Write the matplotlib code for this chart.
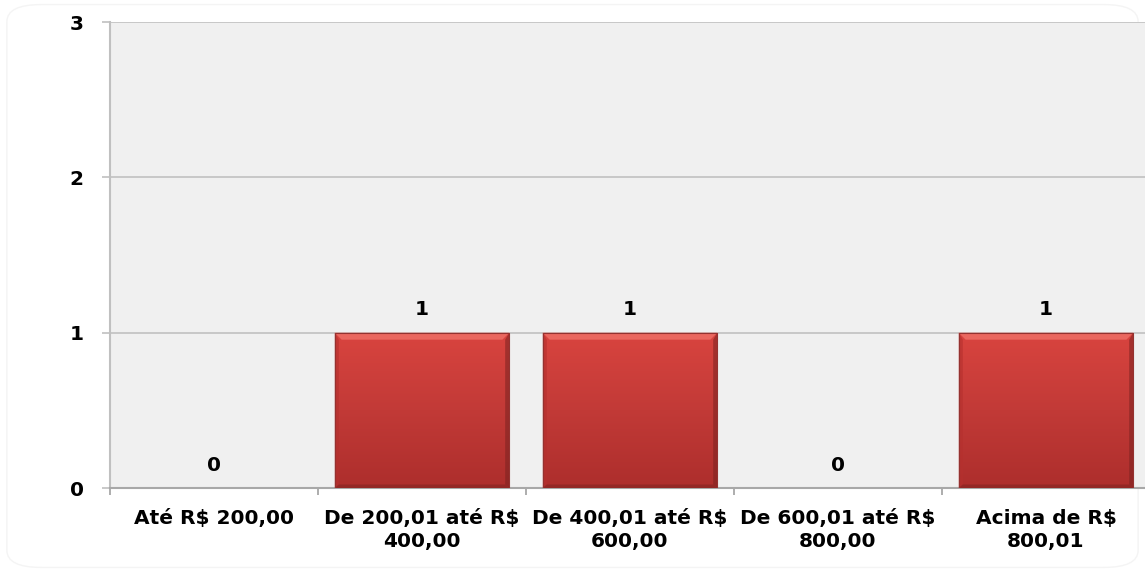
import numpy as np
import matplotlib
matplotlib.use("Agg")
import matplotlib.pyplot as plt
from matplotlib.patches import FancyBboxPatch, Rectangle, Polygon
from matplotlib.colors import LinearSegmentedColormap

categories = [
    "Até R$ 200,00",
    "De 200,01 até R$\n400,00",
    "De 400,01 até R$\n600,00",
    "De 600,01 até R$\n800,00",
    "Acima de R$\n800,01",
]
values = [0, 1, 1, 0, 1]
y_ticks = [0, 1, 2, 3]

plt.rcParams["font.family"] = ["DejaVu Sans"]
plt.rcParams["font.weight"] = "bold"

FS = 14.5

fig = plt.figure(figsize=(11.45, 5.72), dpi=100)
fig.patch.set_facecolor("white")

# very faint rounded frame around the chart
frame = FancyBboxPatch((0.006, 0.008), 0.988, 0.984,
                       boxstyle="round,pad=0,rounding_size=0.03",
                       transform=fig.transFigure, facecolor="none",
                       edgecolor="#f4f4f4", linewidth=1.0, zorder=-1)
fig.patches.append(frame)

ax = fig.add_axes([110 / 1145, 84 / 572, 1040 / 1145, 466 / 572])
ax.set_facecolor("#f0f0f0")

x = np.arange(len(categories))
bar_w = 0.84
bars = ax.bar(x, values, width=bar_w, color="#c83a38", edgecolor="none",
              linewidth=0, zorder=3)

# vertical gradient with a beveled look for each bar
grad_cmap = LinearSegmentedColormap.from_list(
    "bar", ["#ad2e2c", "#c23a37", "#d9443f"])
for b in bars:
    h = b.get_height()
    if h <= 0:
        continue
    x0, w = b.get_x(), b.get_width()
    grad = np.linspace(0, 1, 256).reshape(-1, 1)
    im = ax.imshow(grad, extent=[x0, x0 + w, 0, h], origin="lower",
                   cmap=grad_cmap, aspect="auto", zorder=3.2)
    im.set_clip_path(b)
    bx, by = 0.04 * w, 0.045 * h
    # bevel: light top face, shaded sides and bottom
    ax.add_patch(Polygon([(x0, h), (x0 + w, h), (x0 + w - bx, h - by),
                          (x0 + bx, h - by)], closed=True,
                         facecolor="#ee6e66", edgecolor="none", alpha=0.85,
                         zorder=3.4))
    ax.add_patch(Polygon([(x0, 0), (x0, h), (x0 + bx * 0.6, h - by),
                          (x0 + bx * 0.6, by * 0.5)], closed=True,
                         facecolor="#b5302e", edgecolor="none", alpha=0.6,
                         zorder=3.4))
    ax.add_patch(Polygon([(x0 + w, 0), (x0 + w, h), (x0 + w - bx * 0.6, h - by),
                          (x0 + w - bx * 0.6, by * 0.5)], closed=True,
                         facecolor="#7a2220", edgecolor="none", alpha=0.55,
                         zorder=3.4))
    ax.add_patch(Polygon([(x0, 0), (x0 + w, 0), (x0 + w - bx * 0.6, by * 0.5),
                          (x0 + bx * 0.6, by * 0.5)], closed=True,
                         facecolor="#7a2220", edgecolor="none", alpha=0.5,
                         zorder=3.4))
    ax.add_patch(Rectangle((x0, 0), w, h, facecolor="none",
                           edgecolor="#943230", linewidth=0.8, zorder=3.5))

for xi, v in zip(x, values):
    ax.annotate(str(v), (xi, v), xytext=(0, 9.5), textcoords="offset points",
                ha="center", va="bottom", fontsize=FS, fontweight="bold",
                color="black")

ax.set_xlim(-0.5, len(categories) - 0.5)
ax.set_ylim(0, 3)
ax.set_yticks(y_ticks)
ax.set_yticklabels([str(t) for t in y_ticks], fontsize=FS, fontweight="bold")
ax.yaxis.grid(True, color="#c0c0c0", linewidth=1.2, zorder=1)
ax.set_axisbelow(True)

ax.set_xticks(x)
ax.set_xticklabels(categories, fontsize=FS, fontweight="bold",
                   linespacing=1.3)
ax.set_xticks(np.arange(-0.5, len(categories) + 0.5, 1), minor=True)
ax.tick_params(axis="x", which="major", length=0, pad=15)
ax.tick_params(axis="x", which="minor", length=5, color="#a0a0a0", width=1.2)
ax.tick_params(axis="y", length=6, color="#c0c0c0", width=1.2, pad=13)

for side in ["top", "right"]:
    ax.spines[side].set_visible(False)
ax.spines["left"].set_color("#c0c0c0")
ax.spines["left"].set_linewidth(1.5)
ax.spines["bottom"].set_color("#a8a8a8")
ax.spines["bottom"].set_linewidth(1.5)

fig.savefig("out.png", dpi=100, facecolor="white")
